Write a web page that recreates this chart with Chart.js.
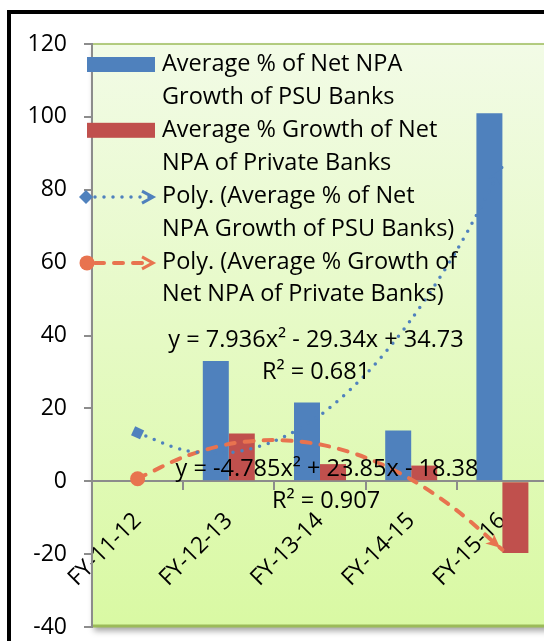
<!DOCTYPE html>
<html>
<head>
<meta charset="utf-8">
<script src="https://cdn.jsdelivr.net/npm/chart.js@4/dist/chart.umd.min.js"></script>
<style>
html,body{margin:0;padding:0;background:#fff;overflow:hidden;width:544px;height:641px}
#frame{position:absolute;left:7px;top:10px;width:620px;height:720px;border:4px solid #000;box-sizing:border-box}
#wrap{position:absolute;left:0;top:0;width:580px;height:680px}
</style>
</head>
<body>
<div id="frame"></div>
<div id="wrap"><canvas id="chart" width="580" height="680"></canvas></div>
<script>
// NPA growth chart - PSU vs private banks, with poly trendlines

// DATA
const categories = ['FY-11-12', 'FY-12-13', 'FY-13-14', 'FY-14-15', 'FY-15-16'];
const psuGrowth = [0, 33, 21.6, 13.9, 101];
const privateGrowth = [0, 13.1, 4.7, 4.3, -19.7];
// trendline curves at half-category steps
const trendX = [1, 1.5, 2, 2.5, 3, 3.5, 4, 4.5, 5];
const psuTrend = [13.3, 8.6, 7.8, 11.0, 18.1, 29.3, 44.4, 63.4, 86.4];
const privateTrend = [0.7, 6.6, 10.2, 11.3, 10.1, 6.5, 0.5, -8.0, -18.8];
const yTicks = [-40, -20, 0, 20, 40, 60, 80, 100, 120];
const legendLines = [
  ['Average % of Net NPA', 'Growth of PSU Banks'],
  ['Average % Growth of Net', 'NPA of Private Banks'],
  ['Poly. (Average % of Net', 'NPA Growth of PSU Banks)'],
  ['Poly. (Average % Growth of', 'Net NPA of Private Banks)']
];
const psuEquation = ['y = 7.936x² - 29.34x + 34.73', 'R² = 0.681'];
const privateEquation = ['y = -4.785x² + 23.85x - 18.38', 'R² = 0.907'];

const BLUE = '#4F81BD';
const RED = '#C0504D';
const ORANGE = '#E8734F';
const AXIS = '#8c8c8c';
const FONT = '"Open Sans", "Noto Sans", sans-serif';

// open arrow head (legend)
function arrowHead(ctx, x, y, ang, color){
  ctx.save();
  ctx.translate(x, y);
  ctx.rotate(ang);
  ctx.strokeStyle = color;
  ctx.lineWidth = 3;
  ctx.lineJoin = 'miter';
  ctx.setLineDash([]);
  ctx.beginPath();
  ctx.moveTo(-11, -6);
  ctx.lineTo(0, 0);
  ctx.lineTo(-11, 6);
  ctx.stroke();
  ctx.restore();
}

// filled arrow head (trendline ends)
function arrowFill(ctx, x, y, ang, color){
  ctx.save();
  ctx.translate(x, y);
  ctx.rotate(ang);
  ctx.fillStyle = color;
  ctx.beginPath();
  ctx.moveTo(0, 0);
  ctx.lineTo(-14, -6.5);
  ctx.lineTo(-10, 0);
  ctx.lineTo(-14, 6.5);
  ctx.closePath();
  ctx.fill();
  ctx.restore();
}

// PLOT AREA BACKGROUND (gradient + shadow)
const plotBg = {
  id: 'plotBg',
  beforeDraw(chart){
    const {ctx, chartArea: a} = chart;
    ctx.save();
    const g = ctx.createLinearGradient(0, a.top, 0, a.bottom);
    g.addColorStop(0, '#F2FBE6');
    g.addColorStop(1, '#D9F9A3');
    ctx.shadowColor = 'rgba(0,0,0,0.35)';
    ctx.shadowBlur = 6;
    ctx.shadowOffsetX = 2;
    ctx.shadowOffsetY = 4;
    ctx.fillStyle = g;
    ctx.fillRect(a.left, a.top, a.right - a.left, a.bottom - a.top);
    ctx.shadowColor = 'transparent';
    ctx.strokeStyle = '#9BBB59';
    ctx.lineWidth = 1.5;
    ctx.beginPath();
    ctx.moveTo(a.left, a.top); ctx.lineTo(a.right, a.top);
    ctx.stroke();
    ctx.lineWidth = 3;
    ctx.beginPath();
    ctx.moveTo(a.left, a.bottom - 1); ctx.lineTo(a.right, a.bottom - 1);
    ctx.stroke();
    ctx.restore();
  }
};

// ARROWS AT TRENDLINE ENDS
const trendArrows = {
  id: 'trendArrows',
  afterDatasetsDraw(chart){
    const ctx = chart.ctx;
    [2, 3].forEach(i => {
      const pts = chart.getDatasetMeta(i).data;
      const p = pts[pts.length - 1], q = pts[pts.length - 2];
      const ang = Math.atan2(p.y - q.y, p.x - q.x);
      arrowFill(ctx, p.x - 3 * Math.cos(ang), p.y - 3 * Math.sin(ang), ang, chart.data.datasets[i].borderColor);
    });
  }
};

// LEGEND + EQUATIONS
const overlay = {
  id: 'overlay',
  afterDraw(chart){
    const ctx = chart.ctx;
    ctx.save();
    ctx.font = '23.5px ' + FONT;
    ctx.fillStyle = '#000';
    ctx.textBaseline = 'middle';
    ctx.textAlign = 'left';
    legendLines.forEach((lines, i) => {
      const y0 = 64.5 + i * 65.8;
      lines.forEach((t, k) => ctx.fillText(t, 162, y0 + k * 32.9));
      if(i < 2){
        ctx.fillStyle = i === 0 ? BLUE : RED;
        ctx.fillRect(87, y0 - 7.5, 68, 15);
        ctx.fillStyle = '#000';
      } else {
        const col = i === 2 ? BLUE : ORANGE;
        const y = y0 + 1;
        ctx.save();
        ctx.strokeStyle = col;
        ctx.fillStyle = col;
        if(i === 2){
          ctx.lineWidth = 3.5; ctx.lineCap = 'round'; ctx.setLineDash([0, 9]);
        } else {
          ctx.lineWidth = 4; ctx.lineCap = 'round'; ctx.setLineDash([9, 10]);
        }
        ctx.beginPath(); ctx.moveTo(95, y); ctx.lineTo(151, y); ctx.stroke();
        ctx.setLineDash([]);
        ctx.beginPath();
        if(i === 2){
          ctx.moveTo(79, y); ctx.lineTo(86, y - 7); ctx.lineTo(93, y); ctx.lineTo(86, y + 7);
          ctx.closePath();
        } else {
          ctx.arc(87, y, 7.5, 0, Math.PI * 2);
        }
        ctx.fill();
        ctx.restore();
        arrowHead(ctx, 153, y, 0, col);
      }
    });
    ctx.textAlign = 'center';
    ctx.fillText(psuEquation[0], 316, 340);
    ctx.fillText(psuEquation[1], 316, 372);
    ctx.fillText(privateEquation[0], 327, 469);
    ctx.fillText(privateEquation[1], 326, 501);
    ctx.restore();
  }
};

const ctx = document.getElementById('chart');
new Chart(ctx, {
  type: 'bar',
  data: {
    labels: categories,
    datasets: [
      {
        label: legendLines[0].join(' '),
        data: psuGrowth.map((y, i) => ({x: i + 1, y})),
        backgroundColor: BLUE,
        categoryPercentage: 0.57,
        barPercentage: 1,
        order: 2
      },
      {
        label: legendLines[1].join(' '),
        data: privateGrowth.map((y, i) => ({x: i + 1, y})),
        backgroundColor: RED,
        categoryPercentage: 0.57,
        barPercentage: 1,
        order: 2
      },
      {
        type: 'line',
        label: legendLines[2].join(' '),
        data: trendX.map((x, i) => ({x, y: psuTrend[i]})),
        borderColor: BLUE,
        borderWidth: 3.5,
        borderDash: [0, 9],
        borderCapStyle: 'round',
        tension: 0.3,
        fill: false,
        pointRadius: c => c.dataIndex === 0 ? 7 : 0,
        pointStyle: 'rect',
        rotation: 25,
        pointBackgroundColor: BLUE,
        pointBorderWidth: 0,
        order: 1
      },
      {
        type: 'line',
        label: legendLines[3].join(' '),
        data: trendX.map((x, i) => ({x, y: privateTrend[i]})),
        borderColor: ORANGE,
        borderWidth: 4,
        borderDash: [9, 10],
        borderCapStyle: 'round',
        tension: 0.3,
        fill: false,
        pointRadius: c => c.dataIndex === 0 ? 7.5 : 0,
        pointStyle: 'circle',
        pointBackgroundColor: ORANGE,
        pointBorderWidth: 0,
        order: 1
      }
    ]
  },
  options: {
    responsive: false,
    animation: false,
    layout: { padding: { top: 44, right: 32, bottom: 53, left: 0 } },
    plugins: { legend: { display: false }, tooltip: { enabled: false } },
    scales: {
      x: {
        type: 'linear',
        min: 0.5,
        max: 5.5,
        position: { y: 0 },
        offset: false,
        z: 1,
        afterBuildTicks: s => { s.ticks = categories.map((c, i) => ({value: i + 1})); },
        grid: { offset: true, drawOnChartArea: false, drawTicks: true, tickLength: 8, color: AXIS, lineWidth: 2 },
        border: { color: AXIS, width: 2 },
        ticks: {
          autoSkip: false, minRotation: 45, maxRotation: 45, padding: 18,
          callback: v => categories[v - 1],
          color: '#000', font: { family: FONT, size: 23 }
        }
      },
      y: {
        min: yTicks[0],
        max: yTicks[yTicks.length - 1],
        afterFit: s => { s.width = 92; },
        afterBuildTicks: s => { s.ticks = yTicks.map(v => ({value: v})); },
        grid: { drawOnChartArea: false, drawTicks: true, tickLength: 8, color: AXIS, lineWidth: 2 },
        border: { color: AXIS, width: 2 },
        ticks: { padding: 17, color: '#000', font: { family: FONT, size: 23 } }
      }
    }
  },
  plugins: [plotBg, trendArrows, overlay]
});
</script>
</body>
</html>
